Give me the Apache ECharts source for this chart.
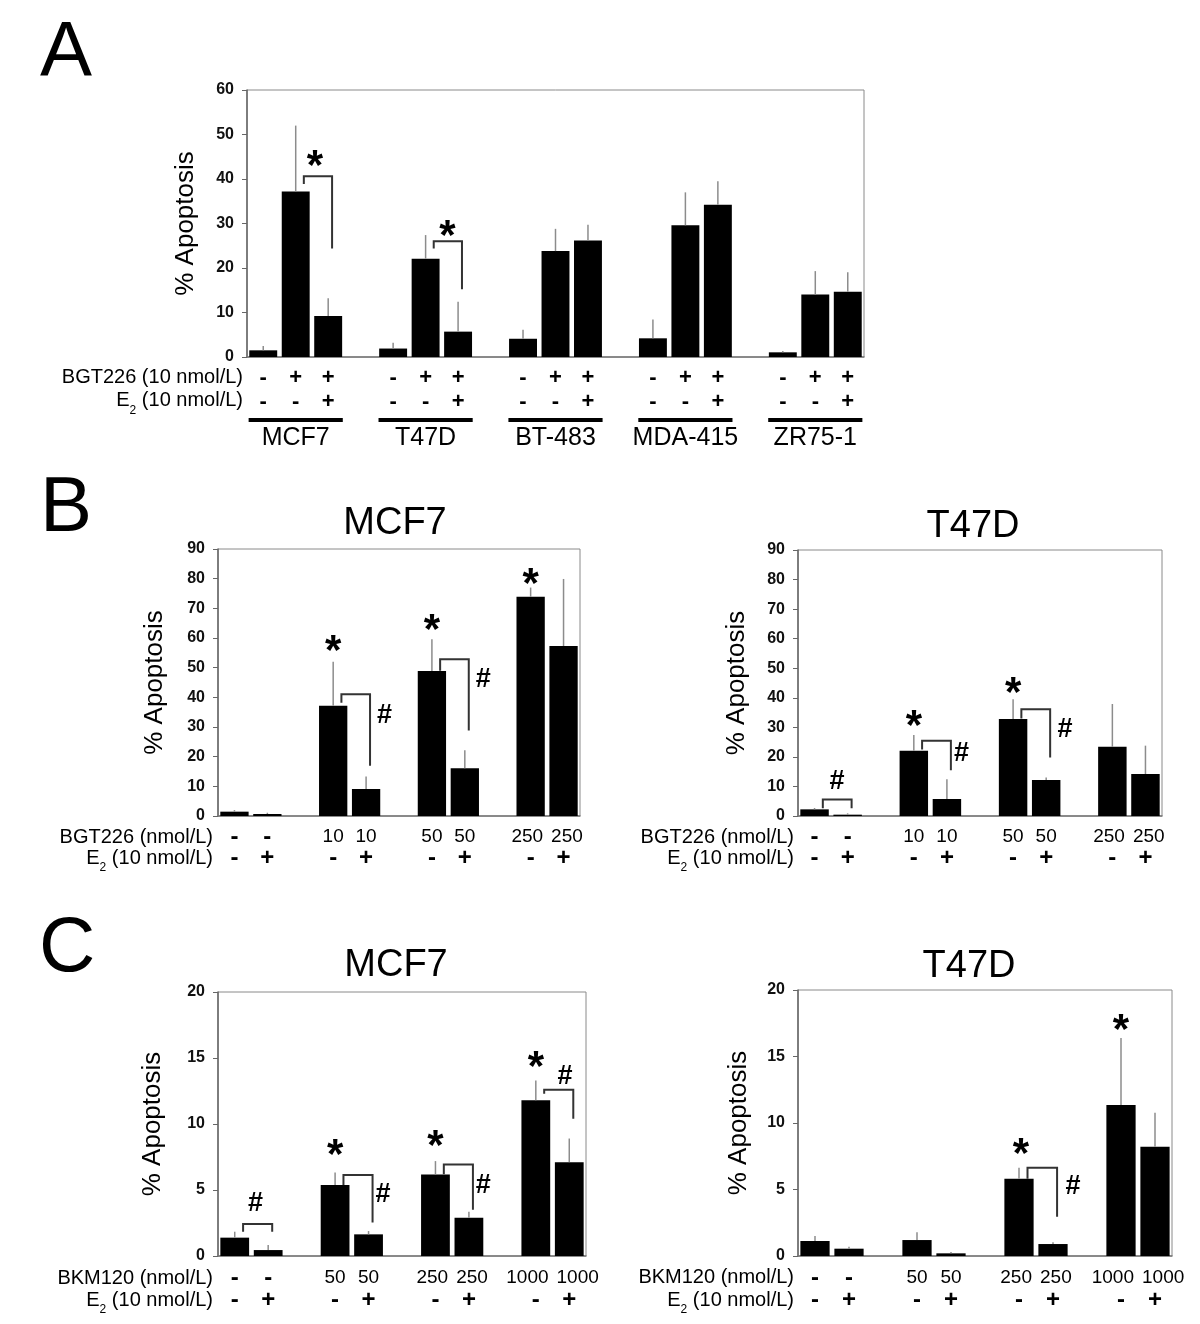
<!DOCTYPE html>
<html>
<head>
<meta charset="utf-8">
<script src="https://cdn.jsdelivr.net/npm/echarts@6/dist/echarts.min.js"></script>
<style>
html,body{margin:0;padding:0;background:#fff;}
#chart{width:1200px;height:1324px;}
</style>
</head>
<body>
<div id="chart"></div>
<script>
const FONT = "'Liberation Sans', Arial, Helvetica, sans-serif";

// ---------------- Panel A ----------------
const A_cells  = ['MCF7', 'T47D', 'BT-483', 'MDA-415', 'ZR75-1'];
const A_bgtRow = ['-', '+', '+'];
const A_e2Row  = ['-', '-', '+'];
const A_yRange = [0, 60, 10];
const A_mean = [1.5, 37.2, 9.2,  1.9, 22.1, 5.7,  4.1, 23.8, 26.2,  4.2, 29.6, 34.2,  1.05, 14.05, 14.65];
const A_err  = [1.0, 14.8, 4.0,  1.3, 5.3, 6.7,   2.0, 5.0, 3.5,    4.2, 7.4, 5.3,    0.3, 5.25, 4.4];
// [leftSlot, rightSlot, top, leftEnd, rightEnd]
const A_brackets = [[1, 2, 40.6, 38.9, 24.4], [5, 6, 26.0, 24.4, 15.2]];
// [slotPosition, value, symbol]
const A_marks = [[1.59, 44.7, '*'], [5.67, 29.0, '*']];

// ---------------- Panel B (BGT226) ----------------
const B_dose = ['-', '-', '10', '10', '50', '50', '250', '250'];
const B_e2   = ['-', '+', '-', '+', '-', '+', '-', '+'];
const B_yRange = [0, 90, 10];
const B_mcf7_mean = [1.46, 0.67, 37.2, 9.1, 48.9, 16.1, 73.9, 57.3];
const B_mcf7_err  = [0.54, 0.43, 14.8, 4.2, 10.7, 6.1, 3.1, 22.6];
const B_mcf7_brackets = [[3, 4, 41.0, 38.2, 16.9], [6, 7, 52.8, 49.0, 28.8]];
const B_mcf7_marks = [[3, 58.2, '*'], [4.56, 34, '#'], [6, 65.5, '*'], [7.56, 46, '#'], [9, 81, '*']];
const B_t47d_mean = [2.25, 0.45, 22.1, 5.75, 32.8, 12.2, 23.4, 14.2];
const B_t47d_err  = [0.45, 0.45, 5.3, 6.65, 6.7, 0.8, 14.5, 9.6];
const B_t47d_brackets = [[0, 1, 5.6, 2.6, 2.6], [3, 4, 25.5, 22.5, 15.5], [6, 7, 36.1, 33.0, 19.8]];
const B_t47d_marks = [[0.68, 11.6, '#'], [3, 33.0, '*'], [4.44, 21, '#'], [6, 44.4, '*'], [7.57, 29.2, '#']];

// ---------------- Panel C (BKM120) ----------------
const C_dose = ['-', '-', '50', '50', '250', '250', '1000', '1000'];
const C_e2   = ['-', '+', '-', '+', '-', '+', '-', '+'];
const C_yRange = [0, 20, 5];
const C_mcf7_mean = [1.39, 0.45, 5.37, 1.64, 6.18, 2.9, 11.8, 7.11];
const C_mcf7_err  = [0.45, 0.38, 0.96, 0.25, 1.01, 0.45, 1.5, 1.79];
const C_mcf7_brackets = [[0, 1, 2.42, 1.84, 1.84], [3, 4, 6.13, 5.37, 2.53], [6, 7, 6.94, 6.2, 3.5], [9, 10, 12.6, 12.3, 10.4]];
const C_mcf7_marks = [[0.62, 4.0, '#'], [3, 8.27, '*'], [4.43, 4.64, '#'], [6, 8.9, '*'], [7.43, 5.37, '#'], [9, 14.9, '*'], [9.87, 13.6, '#']];
const C_t47d_mean = [1.13, 0.55, 1.2, 0.2, 5.81, 0.9, 11.35, 8.22];
const C_t47d_err  = [0.37, 0.15, 0.58, 0.1, 0.83, 0.13, 5.05, 2.56];
const C_t47d_brackets = [[6, 7, 6.64, 5.8, 2.95]];
const C_t47d_marks = [[6.06, 8.22, '*'], [7.59, 5.2, '#'], [9, 17.6, '*']];

// ---------------- helpers ----------------
const mctx = document.createElement('canvas').getContext('2d');
function tw(str, font) { mctx.font = font; return mctx.measureText(str).width; }
const NUM_FONT_SIZE = 19;
const isSign = v => v === '-' || v === '+';

const slotTriple = i => 4 * Math.floor(i / 3) + (i % 3);
const slotPair = i => 3 * Math.floor(i / 2) + (i % 2);

// builds formatter + rich styles for one panel's two label rows
function makeLabels(row1, row2, slotOf, nSlots, groupSize, bw, signSize, lh) {
  const rich = {
    s: { fontFamily: FONT, fontWeight: 'bold', fontSize: signSize, lineHeight: lh, color: '#000' }
  };
  const texts = Array(nSlots).fill('');
  row1.forEach(function (v1, i) {
    const s = slotOf(i);
    const k = i % groupSize;
    const parts = [v1, row2[i]].map(function (v, r) {
      if (isSign(v)) return '{s|' + v + '}';
      const w = tw(v, NUM_FONT_SIZE + 'px ' + FONT);
      const shift = Math.max(0, (w + 8 - bw) / 2);
      const key = 'n' + s + '_' + r;
      const pad = k === 0 ? [0, 2 * shift, 0, 0] : [0, 0, 0, 2 * shift];
      rich[key] = { fontFamily: FONT, fontSize: NUM_FONT_SIZE, lineHeight: lh, color: '#000', padding: pad };
      return '{' + key + '|' + v + '}';
    });
    texts[s] = parts.join('\n');
  });
  return { formatter: function (v, s) { return texts[s] || ''; }, rich: rich };
}

const panelDefs = [
  { rect: {left: 247, top: 90, width: 617, height: 267}, mean: A_mean, err: A_err, slotOf: slotTriple, nSlots: 19, group: 3,
    row1: A_mean.map((v, i) => A_bgtRow[i % 3]), row2: A_mean.map((v, i) => A_e2Row[i % 3]),
    yr: A_yRange, brackets: A_brackets, marks: A_marks, lh: 24, lm: 8.5, pm: 22, nameGap: 48 },
  { rect: {left: 218, top: 549, width: 362, height: 267}, mean: B_mcf7_mean, err: B_mcf7_err, slotOf: slotPair, nSlots: 11, group: 2,
    row1: B_dose, row2: B_e2,
    yr: B_yRange, brackets: B_mcf7_brackets, marks: B_mcf7_marks, lh: 21, lm: 10.5, pm: 24, nameGap: 50 },
  { rect: {left: 798, top: 550, width: 364, height: 266}, mean: B_t47d_mean, err: B_t47d_err, slotOf: slotPair, nSlots: 11, group: 2,
    row1: B_dose, row2: B_e2,
    yr: B_yRange, brackets: B_t47d_brackets, marks: B_t47d_marks, lh: 21, lm: 10.5, pm: 24, nameGap: 48 },
  { rect: {left: 218, top: 992, width: 368, height: 264}, mean: C_mcf7_mean, err: C_mcf7_err, slotOf: slotPair, nSlots: 11, group: 2,
    row1: C_dose, row2: C_e2,
    yr: C_yRange, brackets: C_mcf7_brackets, marks: C_mcf7_marks, lh: 22, lm: 11, pm: 24, nameGap: 52 },
  { rect: {left: 798, top: 990, width: 374, height: 266}, mean: C_t47d_mean, err: C_t47d_err, slotOf: slotPair, nSlots: 11, group: 2,
    row1: C_dose, row2: C_e2,
    yr: C_yRange, brackets: C_t47d_brackets, marks: C_t47d_marks, lh: 22, lm: 11, pm: 24, nameGap: 46 }
];

function txtStyle(text, font, align, valign) {
  return { text: text, font: font, fill: '#000', align: align, verticalAlign: valign, textAlign: align, textVerticalAlign: valign };
}

const option = { animation: false, grid: [], xAxis: [], yAxis: [], series: [], graphic: [] };

panelDefs.forEach(function (p, gi) {
  const bw = p.rect.width / p.nSlots;
  const lab = makeLabels(p.row1, p.row2, p.slotOf, p.nSlots, p.group, bw, p.pm, p.lh);
  option.grid.push(Object.assign({ show: true, borderColor: '#8a8a8a', borderWidth: 1, backgroundColor: 'transparent' }, p.rect));
  option.xAxis.push({
    type: 'category', gridIndex: gi, boundaryGap: true,
    data: Array.from({ length: p.nSlots }, (_, s) => String(s)),
    axisLine: { show: true, lineStyle: { color: '#777', width: 1.5 } },
    axisTick: { show: false }, splitLine: { show: false },
    axisLabel: { interval: 0, margin: p.lm, formatter: lab.formatter, rich: lab.rich }
  });
  option.yAxis.push({
    type: 'value', gridIndex: gi, min: p.yr[0], max: p.yr[1], interval: p.yr[2],
    name: '% Apoptosis', nameLocation: 'middle', nameRotate: 90, nameGap: p.nameGap,
    nameTextStyle: { fontFamily: FONT, fontSize: 26, color: '#000' },
    axisLine: { show: true, lineStyle: { color: '#666', width: 1.5 } },
    axisTick: { show: true, length: 5, lineStyle: { color: '#666' } },
    splitLine: { show: false },
    axisLabel: { margin: 13, fontFamily: FONT, fontWeight: 'bold', fontSize: 16, color: '#111' }
  });

  const barData = Array(p.nSlots).fill(null);
  p.mean.forEach(function (v, i) { barData[p.slotOf(i)] = v; });
  option.series.push({ type: 'bar', xAxisIndex: gi, yAxisIndex: gi, data: barData, barWidth: '86%',
    itemStyle: { color: '#000' }, silent: true, z: 2 });

  // error bars (upper only)
  option.series.push({
    type: 'custom', xAxisIndex: gi, yAxisIndex: gi, silent: true, z: 3, clip: false,
    data: p.mean.map(function (v, i) { return [p.slotOf(i), v, v + p.err[i]]; }),
    encode: { x: 0, y: [1, 2] },
    renderItem: function (params, api) {
      const a = api.coord([api.value(0), api.value(1)]);
      const b = api.coord([api.value(0), api.value(2)]);
      return { type: 'line', shape: { x1: a[0], y1: a[1], x2: b[0], y2: b[1] }, style: { stroke: '#8c8c8c', lineWidth: 1.5 } };
    }
  });

  // significance brackets
  option.series.push({
    type: 'custom', xAxisIndex: gi, yAxisIndex: gi, silent: true, z: 4, clip: false,
    data: p.brackets.map(function (b) { return [b[0], b[2]]; }),
    encode: { x: 0, y: 1 },
    renderItem: function (params, api) {
      const b = p.brackets[params.dataIndex];
      const w = api.size([1, 0])[0];
      const xL = api.coord([b[0], 0])[0] + 0.25 * w;
      const xR = api.coord([b[1], 0])[0] + 0.12 * w;
      const yT = api.coord([b[0], b[2]])[1];
      const yL = api.coord([b[0], b[3]])[1];
      const yR = api.coord([b[1], b[4]])[1];
      return { type: 'polyline', shape: { points: [[xL, yL], [xL, yT], [xR, yT], [xR, yR]] },
        style: { stroke: '#333', lineWidth: 2, fill: null } };
    }
  });

  // * and # marks
  option.series.push({
    type: 'custom', xAxisIndex: gi, yAxisIndex: gi, silent: true, z: 5, clip: false,
    data: p.marks.map(function (m) { return [Math.floor(m[0]), m[1]]; }),
    encode: { x: 0, y: 1 },
    renderItem: function (params, api) {
      const m = p.marks[params.dataIndex];
      const base = Math.floor(m[0]);
      const w = api.size([1, 0])[0];
      const pt = api.coord([base, m[1]]);
      const star = m[2] === '*';
      const fs = star ? 42 : 27;
      return { type: 'text', x: pt[0] + (m[0] - base) * w, y: pt[1] + (star ? 0.22 * fs : 0),
        style: txtStyle(m[2], 'bold ' + fs + 'px ' + FONT, 'center', 'middle') };
    }
  });
});

// Panel A: group underline and cell-line names
option.series.push({
  type: 'custom', xAxisIndex: 0, yAxisIndex: 0, silent: true, clip: false,
  data: A_cells.map(function (c, g) { return [4 * g + 1, 0]; }),
  encode: { x: 0, y: 1 },
  renderItem: function (params, api) {
    const c = api.coord([api.value(0), 0]);
    const w = api.size([1, 0])[0];
    return { type: 'group', children: [
      { type: 'rect', shape: { x: c[0] - 1.45 * w, y: c[1] + 61, width: 2.9 * w, height: 4 }, style: { fill: '#000' } },
      { type: 'text', x: c[0], y: c[1] + 81, style: txtStyle(A_cells[params.dataIndex], '25px ' + FONT, 'center', 'middle') }
    ] };
  }
});

// ---------------- static text: panel letters, titles, row headers ----------------
function headerE2(xRight, y) {
  const f = '20px ' + FONT, fs = '12px ' + FONT;
  const tail = ' (10 nmol/L)';
  const wTail = tw(tail, f), w2 = tw('2', fs);
  return [
    { type: 'text', x: xRight, y: y, style: txtStyle(tail, f, 'right', 'middle') },
    { type: 'text', x: xRight - wTail, y: y + 10, style: txtStyle('2', fs, 'right', 'middle') },
    { type: 'text', x: xRight - wTail - w2, y: y, style: txtStyle('E', f, 'right', 'middle') }
  ];
}
function header(text, xRight, y) {
  return { type: 'text', x: xRight, y: y, style: txtStyle(text, '20px ' + FONT, 'right', 'middle') };
}
const G = option.graphic;
G.push({ type: 'text', x: 40, y: 54, style: txtStyle('A', '78px ' + FONT, 'left', 'middle') });
G.push({ type: 'text', x: 40, y: 509, style: txtStyle('B', '78px ' + FONT, 'left', 'middle') });
G.push({ type: 'text', x: 39, y: 949, style: txtStyle('C', '78px ' + FONT, 'left', 'middle') });
G.push({ type: 'text', x: 395, y: 524, style: txtStyle('MCF7', '38px ' + FONT, 'center', 'middle') });
G.push({ type: 'text', x: 973, y: 527, style: txtStyle('T47D', '38px ' + FONT, 'center', 'middle') });
G.push({ type: 'text', x: 396, y: 966, style: txtStyle('MCF7', '38px ' + FONT, 'center', 'middle') });
G.push({ type: 'text', x: 969, y: 967, style: txtStyle('T47D', '38px ' + FONT, 'center', 'middle') });
G.push(header('BGT226 (10 nmol/L)', 243, 377));
headerE2(243, 400.5).forEach(e => G.push(e));
G.push(header('BGT226 (nmol/L)', 213, 837));
headerE2(213, 858).forEach(e => G.push(e));
G.push(header('BGT226 (nmol/L)', 794, 837));
headerE2(794, 858).forEach(e => G.push(e));
G.push(header('BKM120 (nmol/L)', 213, 1278));
headerE2(213, 1300).forEach(e => G.push(e));
G.push(header('BKM120 (nmol/L)', 794, 1277));
headerE2(794, 1300).forEach(e => G.push(e));

const chart = echarts.init(document.getElementById('chart'), null, { renderer: 'canvas' });
chart.setOption(option);
</script>
</body>
</html>
